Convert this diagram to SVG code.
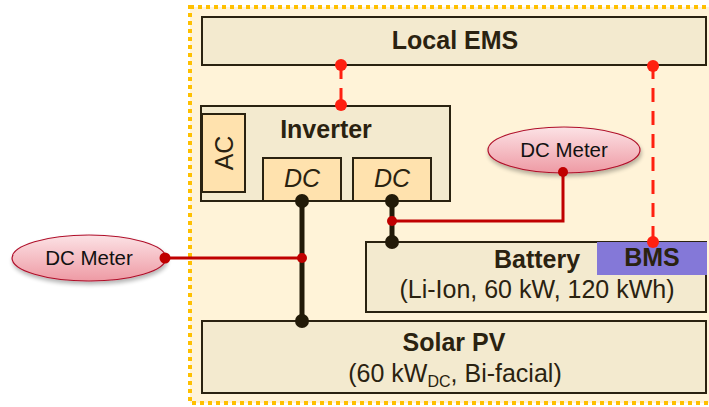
<svg xmlns="http://www.w3.org/2000/svg" width="709" height="407" viewBox="0 0 709 407">
<defs>
<linearGradient id="pink" x1="0" y1="0" x2="0" y2="1">
<stop offset="0" stop-color="#FCE2E5"/>
<stop offset="1" stop-color="#EE9AA4"/>
</linearGradient>
<filter id="sh" x="-20%" y="-30%" width="140%" height="170%">
<feGaussianBlur in="SourceAlpha" stdDeviation="2"/>
<feOffset dx="1" dy="3" result="b"/>
<feComponentTransfer><feFuncA type="linear" slope="0.3"/></feComponentTransfer>
<feMerge><feMergeNode/><feMergeNode in="SourceGraphic"/></feMerge>
</filter>
</defs>
<style>
.box{fill:#F3EACF;stroke:#2A2210;stroke-width:2}
.sub{fill:#FFE2AE;stroke:#2A2210;stroke-width:2}
.t{font-family:"Liberation Sans",Arial,sans-serif;fill:#2A2210;text-anchor:middle}
.b{font-weight:bold;font-size:25px}
.r{font-size:25px}
.i{font-style:italic;font-size:25px}
.m{font-family:"Liberation Sans",Arial,sans-serif;font-size:20.5px;fill:#111;text-anchor:middle}
.meter{fill:url(#pink);stroke:#B0102A;stroke-width:1.2}
.red{stroke:#C00000;stroke-width:3;fill:none}
.dash{stroke:#FF2010;stroke-width:3;fill:none;stroke-dasharray:14,9}
.blk{stroke:#221A08;stroke-width:5;fill:none}
.rd{fill:#C00000}
.bd{fill:#FF2010}
.kd{fill:#221A08}
</style>
<rect x="0" y="0" width="709" height="407" fill="#FFFFFF"/>
<g id="container">
<rect x="190" y="7" width="525" height="396" fill="#FFF3D8" stroke="#FFC000" stroke-width="4" stroke-dasharray="4,4"/>
</g>
<g id="local-ems">
<rect class="box" x="202" y="17" width="504" height="48"/>
<text class="t b" x="455" y="49">Local EMS</text>
</g>
<g id="inverter">
<rect class="box" x="201" y="106" width="249" height="95"/>
<text class="t b" x="326" y="138">Inverter</text>
</g>
<g id="ac">
<rect class="sub" x="202" y="114" width="43" height="78"/>
<text class="t r" x="0" y="0" transform="translate(233,153) rotate(-90)">AC</text>
</g>
<g id="dc1">
<rect class="sub" x="263" y="158" width="78" height="43"/>
<text class="t i" x="302" y="187">DC</text>
</g>
<g id="dc2">
<rect class="sub" x="353" y="158" width="78" height="43"/>
<text class="t i" x="392" y="187">DC</text>
</g>
<g id="battery">
<rect class="box" x="366" y="242" width="340" height="70"/>
<text class="t b" x="537" y="268">Battery</text>
<text class="t r" x="537" y="298">(Li-Ion, 60 kW, 120 kWh)</text>
</g>
<g id="bms">
<rect x="597" y="242" width="110" height="33" fill="#8478D8"/>
<text class="t b" x="652" y="266">BMS</text>
</g>
<g id="solar-pv">
<rect class="box" x="202" y="321" width="504" height="72"/>
<text class="t b" x="454" y="351">Solar PV</text>
<text class="t r" x="455" y="382">(60 kW<tspan font-size="16" dy="5">DC</tspan><tspan dy="-5">, Bi-facial)</tspan></text>
</g>
<g id="dc-meter-left">
<ellipse class="meter" cx="89" cy="258" rx="77" ry="23" filter="url(#sh)"/>
<text class="m" x="89" y="265">DC Meter</text>
</g>
<g id="dc-meter-right">
<ellipse class="meter" cx="564" cy="150" rx="76" ry="23" filter="url(#sh)"/>
<text class="m" x="564" y="157">DC Meter</text>
</g>
<g id="connectors">
<line class="dash" x1="341" y1="65" x2="341" y2="106" stroke-dasharray="14,10"/>
<circle class="bd" cx="341" cy="65" r="6"/>
<circle class="bd" cx="341" cy="105" r="6"/>
<line class="dash" x1="653" y1="65" x2="653" y2="242"/>
<circle class="bd" cx="653" cy="66" r="6"/>
<circle class="bd" cx="653" cy="242" r="6"/>
<line class="blk" x1="302" y1="201" x2="302" y2="321"/>
<line class="blk" x1="392" y1="201" x2="392" y2="242"/>
<polyline class="red" points="165,258 302,258"/>
<polyline class="red" points="392,221 563,221 563,172"/>
<circle class="kd" cx="302" cy="201" r="7"/>
<circle class="kd" cx="302" cy="321" r="7"/>
<circle class="kd" cx="392" cy="201" r="7"/>
<circle class="kd" cx="392" cy="242" r="7"/>
<circle class="rd" cx="165" cy="258" r="5.5"/>
<circle class="rd" cx="302" cy="258" r="5"/>
<circle class="rd" cx="392" cy="221" r="5"/>
<circle class="rd" cx="563" cy="172" r="5"/>
</g>
</svg>
